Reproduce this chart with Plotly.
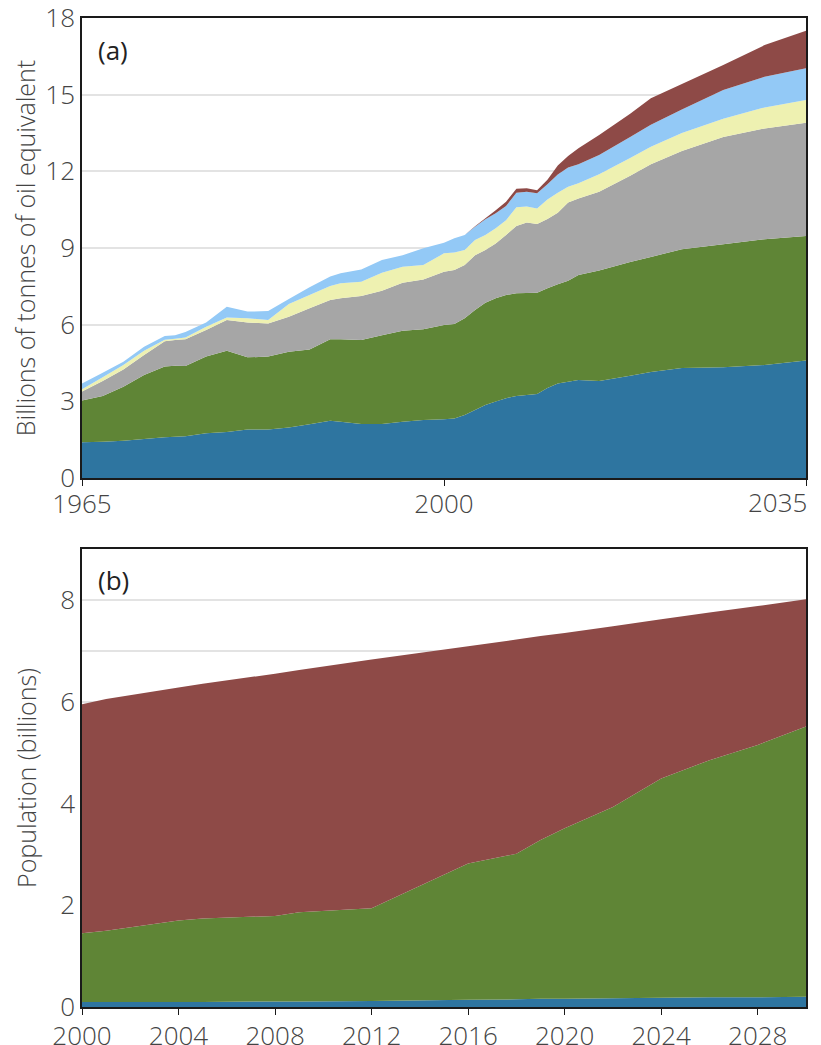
import plotly.graph_objects as go

# ---------------- Panel (a): energy consumption (billions toe) ----------------
years_a = [1965, 1967, 1969, 1971, 1973, 1974, 1975, 1977, 1979, 1981, 1983, 1985,
           1987, 1989, 1990, 1992, 1994, 1996, 1998, 2000, 2001, 2002, 2003, 2004,
           2005, 2006, 2007, 2008, 2009, 2010, 2011, 2012, 2013, 2015, 2018, 2020,
           2023, 2027, 2031, 2035]
blue_a = [1.40, 1.42, 1.46, 1.53, 1.59, 1.61, 1.63, 1.75, 1.80, 1.90, 1.90, 1.98,
          2.10, 2.24, 2.20, 2.11, 2.11, 2.20, 2.27, 2.30, 2.33, 2.46, 2.66, 2.86,
          2.99, 3.12, 3.21, 3.25, 3.29, 3.52, 3.70, 3.77, 3.83, 3.80, 4.00, 4.15,
          4.30, 4.33, 4.42, 4.60]
green_a = [1.63, 1.79, 2.11, 2.50, 2.77, 2.78, 2.75, 3.00, 3.18, 2.82, 2.85, 2.96,
           2.93, 3.19, 3.23, 3.29, 3.48, 3.56, 3.55, 3.69, 3.70, 3.79, 3.91, 4.00,
           4.04, 4.04, 4.02, 3.99, 3.96, 3.90, 3.88, 3.95, 4.11, 4.32, 4.45, 4.50,
           4.65, 4.82, 4.92, 4.87]
gray_a = [0.35, 0.59, 0.68, 0.78, 0.99, 1.01, 1.05, 1.04, 1.20, 1.36, 1.30, 1.37,
          1.61, 1.53, 1.60, 1.72, 1.74, 1.88, 1.95, 2.08, 2.11, 2.08, 2.15, 2.06,
          2.15, 2.35, 2.63, 2.76, 2.69, 2.71, 2.80, 3.06, 3.00, 3.08, 3.38, 3.63,
          3.85, 4.19, 4.34, 4.43]
yellow_a = [0.09, 0.14, 0.17, 0.17, 0.06, 0.05, 0.07, 0.13, 0.10, 0.17, 0.13, 0.50,
            0.52, 0.55, 0.59, 0.56, 0.70, 0.63, 0.56, 0.72, 0.68, 0.59, 0.59, 0.59,
            0.59, 0.58, 0.73, 0.62, 0.61, 0.77, 0.78, 0.62, 0.59, 0.69, 0.69, 0.68,
            0.70, 0.72, 0.82, 0.89]
lightblue_a = [0.23, 0.18, 0.13, 0.16, 0.15, 0.14, 0.21, 0.16, 0.42, 0.26, 0.35, 0.19,
               0.30, 0.37, 0.39, 0.48, 0.50, 0.45, 0.66, 0.42, 0.56, 0.59, 0.52, 0.61,
               0.59, 0.55, 0.57, 0.58, 0.59, 0.59, 0.72, 0.75, 0.75, 0.75, 0.82, 0.86,
               0.92, 1.12, 1.20, 1.24]
brown_a = [0, 0, 0, 0, 0, 0, 0, 0, 0, 0, 0, 0,
           0, 0, 0, 0, 0, 0, 0, 0, 0, 0, 0.02, 0.04,
           0.12, 0.17, 0.16, 0.14, 0.12, 0.18, 0.35, 0.45, 0.62, 0.78, 0.91, 1.04,
           1.00, 0.98, 1.24, 1.47]

# ---------------- Panel (b): population (billions) ----------------
years_b = [2000, 2001, 2004, 2005, 2008, 2009, 2012, 2016, 2018, 2019, 2020, 2022,
           2024, 2026, 2028, 2030]
blue_b = [0.10, 0.10, 0.10, 0.10, 0.11, 0.11, 0.12, 0.14, 0.15, 0.16, 0.16, 0.17,
          0.18, 0.19, 0.19, 0.20]
green_b = [1.35, 1.40, 1.60, 1.64, 1.68, 1.75, 1.82, 2.68, 2.86, 3.12, 3.35, 3.76,
           4.31, 4.66, 4.96, 5.31]
brown_b = [4.50, 4.55, 4.58, 4.61, 4.76, 4.76, 4.89, 4.27, 4.21, 4.01, 3.84, 3.55,
           3.13, 2.90, 2.73, 2.50]

ticks_a_x = [1965, 2000, 2035]
ticks_a_y = [0, 3, 6, 9, 12, 15, 18]
ticks_b_x = [2000, 2004, 2008, 2012, 2016, 2020, 2024, 2028]
ticks_b_y = [0, 1, 2, 3, 4, 5, 6, 7, 8, 9]

C_BLUE = "#2e75a0"
C_GREEN = "#5f8536"
C_GRAY = "#a6a6a6"
C_YELLOW = "#eef1b1"
C_LBLUE = "#93c9f6"
C_BROWN = "#8e4a47"

fig = go.Figure()

for vals, col in [(blue_a, C_BLUE), (green_a, C_GREEN), (gray_a, C_GRAY),
                  (yellow_a, C_YELLOW), (lightblue_a, C_LBLUE), (brown_a, C_BROWN)]:
    fig.add_trace(go.Scatter(x=years_a, y=vals, mode="none", stackgroup="a",
                             fillcolor=col, line=dict(width=0),
                             xaxis="x", yaxis="y", showlegend=False, hoverinfo="skip"))

for vals, col in [(blue_b, C_BLUE), (green_b, C_GREEN), (brown_b, C_BROWN)]:
    fig.add_trace(go.Scatter(x=years_b, y=vals, mode="none", stackgroup="b",
                             fillcolor=col, line=dict(width=0),
                             xaxis="x2", yaxis="y2", showlegend=False, hoverinfo="skip"))

FONT = "Open Sans"
TXT = "#444444"
LINE = "#1a1a1a"
GRID = "#e3e3e3"
TICKFONT = dict(family=FONT, size=26, color=TXT, weight=300)

axis_common = dict(showline=True, linecolor=LINE, linewidth=1.5, mirror=True,
                   tickfont=TICKFONT, zeroline=False, automargin=False,
                   ticklabeloverflow="allow")

fig.update_layout(
    width=821, height=1045,
    margin=dict(l=82, r=15, t=18, b=38),
    paper_bgcolor="white", plot_bgcolor="white",
    font=dict(family=FONT, color=TXT),
    xaxis=dict(domain=[0, 1], anchor="y", range=[1965, 2035],
               tickvals=ticks_a_x, ticktext=["1965", "2000", ""],
               ticks="outside", ticklen=6, tickcolor=LINE, showgrid=False,
               ticklabelstandoff=-4, **axis_common),
    yaxis=dict(domain=[0.5349, 1.0], anchor="x", range=[0, 18],
               tickvals=ticks_a_y, ticks="", showgrid=True, gridcolor=GRID, gridwidth=1.5,
               title=dict(text="Billions of tonnes of oil equivalent",
                          font=dict(family=FONT, size=25, color=TXT, weight=300),
                          standoff=3),
               **axis_common),
    xaxis2=dict(domain=[0, 1], anchor="y2", range=[2000, 2030],
                tickvals=ticks_b_x, ticks="outside", ticklen=6, tickcolor=LINE,
                showgrid=False, ticklabelstandoff=-1, **axis_common),
    yaxis2=dict(domain=[0, 0.4631], anchor="x2", range=[0, 9],
                tickvals=ticks_b_y,
                ticktext=[str(v) if v % 2 == 0 else "" for v in ticks_b_y],
                ticks="", showgrid=True, gridcolor=GRID, gridwidth=1.5,
                title=dict(text="Population (billions)",
                           font=dict(family=FONT, size=25, color=TXT, weight=300),
                           standoff=16),
                **axis_common),
    annotations=[
        dict(text="(a)", x=0.02, y=0.93, xref="x domain", yref="y domain",
             xanchor="left", yanchor="middle", showarrow=False,
             font=dict(family=FONT, size=26, color="#222222")),
        dict(text="(b)", x=0.02, y=0.932, xref="x2 domain", yref="y2 domain",
             xanchor="left", yanchor="middle", showarrow=False,
             font=dict(family=FONT, size=26, color="#222222")),
        dict(text="2035", x=2035, y=0, xref="x", yref="y", xanchor="right",
             yanchor="top", yshift=-4, xshift=3, showarrow=False,
             font=TICKFONT),
    ],
)

fig.write_html("out.html", config={"displayModeBar": False},
               post_script="document.body.style.margin='0';"
                           "document.body.style.overflow='hidden';")
